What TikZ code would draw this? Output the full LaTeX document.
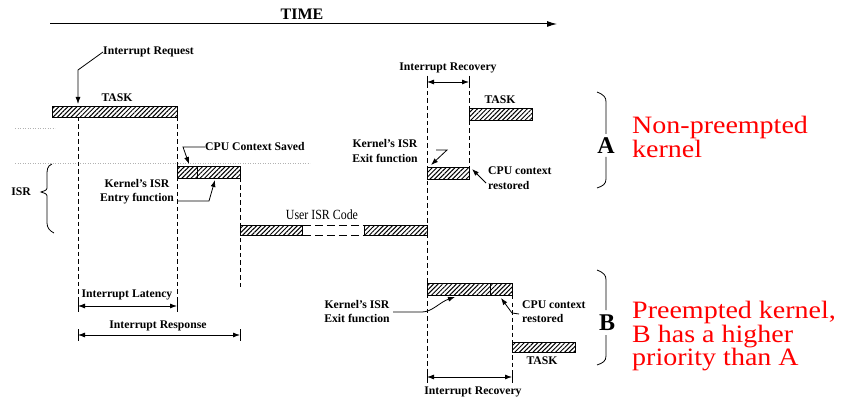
\documentclass[tikz,border=0pt]{standalone}
\usepackage{fontspec}
\setmainfont{Liberation Serif}
\usetikzlibrary{arrows.meta,patterns.meta}
\begin{document}
\begin{tikzpicture}[x=1pt,y=-1pt,
  lbl/.style={font=\bfseries\fontsize{11.7}{14.5}\selectfont, inner sep=0pt, align=center},
  hbar/.style={draw, line width=0.9pt, anchor=north west, inner sep=0pt,
    pattern={Lines[angle=45,distance=3.2pt,line width=1pt]}},
  vdash/.style={line width=0.8pt, dash pattern=on 4.5pt off 3pt},
  dimarr/.style={{Latex[length=7pt,width=5pt]}-{Latex[length=7pt,width=5pt]}, line width=0.8pt},
  lead/.style={-{Latex[length=7pt,width=5pt]}, line width=0.8pt},
  tick/.style={line width=1pt},
  bigletter/.style={font=\bfseries\fontsize{24}{24}\selectfont, inner sep=1pt, fill=white},
  redtxt/.style={text=red, font=\fontsize{25}{21.6}\selectfont, align=left, anchor=north west, inner sep=0pt, xscale=1.12},
  faint/.style={gray!60, line width=0.5pt, dotted}
]
\useasboundingbox (0,0) rectangle (853,419);

% faint scan lines
\draw[faint] (15,128) -- (55,128);
\draw[faint] (15,163) -- (310,163);

% TIME axis
\coordinate (t0) at (50,24);
\coordinate (t1) at (557,24);
\draw[-{Latex[length=10pt,width=6pt]}, line width=1pt] (t0) -- (t1);
\node[font=\bfseries\fontsize{16}{16}\selectfont, inner sep=0pt] (time) at (302,14) {TIME};

% dashed time markers
\draw[vdash] (78,117) -- (78,310);
\draw[vdash] (177,117) -- (177,310);
\draw[vdash] (240,178) -- (240,290);
\draw[vdash] (427,76) -- (427,380);
\draw[vdash] (469,76) -- (469,167);
\draw[vdash] (512,295) -- (512,380);

% Task bar (top left)
\node[hbar, minimum width=125pt, minimum height=11pt] (task1) at (52,106) {};
\node[lbl, anchor=base] (task1l) at (117,102) {TASK};

% Interrupt request
\node[lbl, anchor=west] (ireq) at (103,52) {Interrupt Request};
\coordinate (ir1) at (78,70);
\coordinate (ir2) at (78,104);
\draw[lead] (ireq.west) -- (ir1) -- (ir2);

% CPU context saved bar
\node[hbar, minimum width=63pt, minimum height=12pt] (cpus) at (177,166) {};
\draw[line width=0.6pt] (197,166) -- (197,178);
\node[lbl, anchor=west] (cpusl) at (205,147) {CPU Context Saved};
\coordinate (cs1) at (183,147);
\coordinate (cs2) at (189,164);
\draw[lead] (cpusl.west) -- (cs1) -- (cs2);

% Kernel's ISR entry function
\node[lbl] (kentry) at (137,191.5) {Kernel's ISR\\Entry function};
\coordinate (ke0) at (177,201);
\coordinate (ke1) at (209,201);
\coordinate (ke2) at (215,180);
\draw[lead] (ke0) -- (ke1) -- (ke2);

% ISR brace
\node[lbl, anchor=east] (isr) at (31,192) {ISR};
\draw[line width=0.8pt] (52,164) .. controls (47,166) and (47,170) .. (47,176) -- (47,186)
  .. controls (47,190) .. (41,192) .. controls (47,194) .. (47,198) -- (47,223)
  .. controls (47,228) and (50,231) .. (54,233);

% Interrupt latency / response
\coordinate (lat0) at (78,306);
\coordinate (lat1) at (177,306);
\draw[dimarr] (lat0) -- (lat1);
\draw[tick] (78,300) -- (78,312);
\draw[tick] (177,300) -- (177,312);
\node[lbl] (latl) at (127,295) {Interrupt Latency};
\coordinate (res0) at (78,335);
\coordinate (res1) at (240,335);
\draw[dimarr] (res0) -- (res1);
\draw[tick] (78,329) -- (78,341);
\draw[tick] (240,329) -- (240,341);
\node[lbl] (resl) at (158,326) {Interrupt Response};

% User ISR code
\node[hbar, minimum width=62pt, minimum height=10pt] (user1) at (240,225) {};
\node[hbar, minimum width=63pt, minimum height=10pt] (user2) at (364,225) {};
\draw[line width=0.8pt, dash pattern=on 8pt off 4pt] (user1.north east) -- (user2.north west);
\draw[line width=0.8pt, dash pattern=on 8pt off 4pt] (user1.south east) -- (user2.south west);
\node[font=\fontsize{14}{14}\selectfont, inner sep=0pt, xscale=0.85] (userl) at (322,215) {User ISR Code};

% ---- A: non-preempted kernel ----
\node[lbl] (recAl) at (448,68) {Interrupt Recovery};
\coordinate (recA0) at (427,82);
\coordinate (recA1) at (469,82);
\draw[dimarr] (recA0) -- (recA1);
\draw[tick] (427,76) -- (427,88);
\draw[tick] (469,76) -- (469,88);

\node[hbar, minimum width=63pt, minimum height=12pt] (taskA) at (469,108) {};
\node[lbl, anchor=base] (taskAl) at (500,104) {TASK};

\node[hbar, minimum width=42pt, minimum height=12pt] (exitA) at (427,167) {};
\node[lbl] (kexitA) at (385,151) {Kernel's ISR\\Exit function};
\coordinate (za) at (436,150);
\coordinate (zb) at (447,150);
\coordinate (zc) at (431,165);
\draw[lead] (za) -- (zb) -- (zc);

\node[lbl, align=left, anchor=west] (cpurA) at (488,178) {CPU context\\restored};
\coordinate (lA) at (486,183);
\coordinate (lA2) at (472,169);
\draw[lead] (lA) -- (lA2);

\draw[line width=0.8pt] (597,92) .. controls (604,95) and (606,97) .. (606,102) -- (606,134);
\draw[line width=0.8pt] (606,157) -- (606,179) .. controls (606,184) and (603,186) .. (597,188);
\node[bigletter] (A) at (606,146) {A};
\node[redtxt] (redA) at (632,116) {Non-preempted\\kernel};

% ---- B: preempted kernel ----
\node[hbar, minimum width=85pt, minimum height=12pt] (exitB) at (427,283) {};
\draw[line width=0.6pt] (490,283) -- (490,295);
\node[hbar, minimum width=63pt, minimum height=10pt] (taskB) at (512,342) {};
\node[lbl, anchor=base] (taskBl) at (542,364) {TASK};

\node[lbl] (kexitB) at (357,311.5) {Kernel's ISR\\Exit function};
\coordinate (kb0) at (393,312);
\coordinate (kb1) at (422,312);
\coordinate (kb2) at (455,297);
\draw[lead] (kb0) -- (kb1) .. controls (432,312) and (440,302) .. (kb2);

\node[lbl, align=left, anchor=west] (cpurB) at (522,311.5) {CPU context\\restored};
\coordinate (cb0) at (519,314);
\coordinate (cb1) at (512,313);
\coordinate (cb2) at (501,298);
\draw[lead] (cb0) -- (cb1) -- (cb2);

\coordinate (recB0) at (427,377);
\coordinate (recB1) at (512,377);
\draw[dimarr] (recB0) -- (recB1);
\draw[tick] (427,371) -- (427,383);
\draw[tick] (512,371) -- (512,383);
\node[lbl] (recBl) at (473,392) {Interrupt Recovery};

\draw[line width=0.8pt] (597,270) .. controls (604,273) and (606,275) .. (606,280) -- (606,310);
\draw[line width=0.8pt] (606,335) -- (606,356) .. controls (606,361) and (603,363) .. (597,365);
\node[bigletter] (B) at (607,323) {B};
\node[redtxt] (redB) at (632,301) {Preempted kernel,\\B has a higher\\priority than A};
\end{tikzpicture}
\end{document}
